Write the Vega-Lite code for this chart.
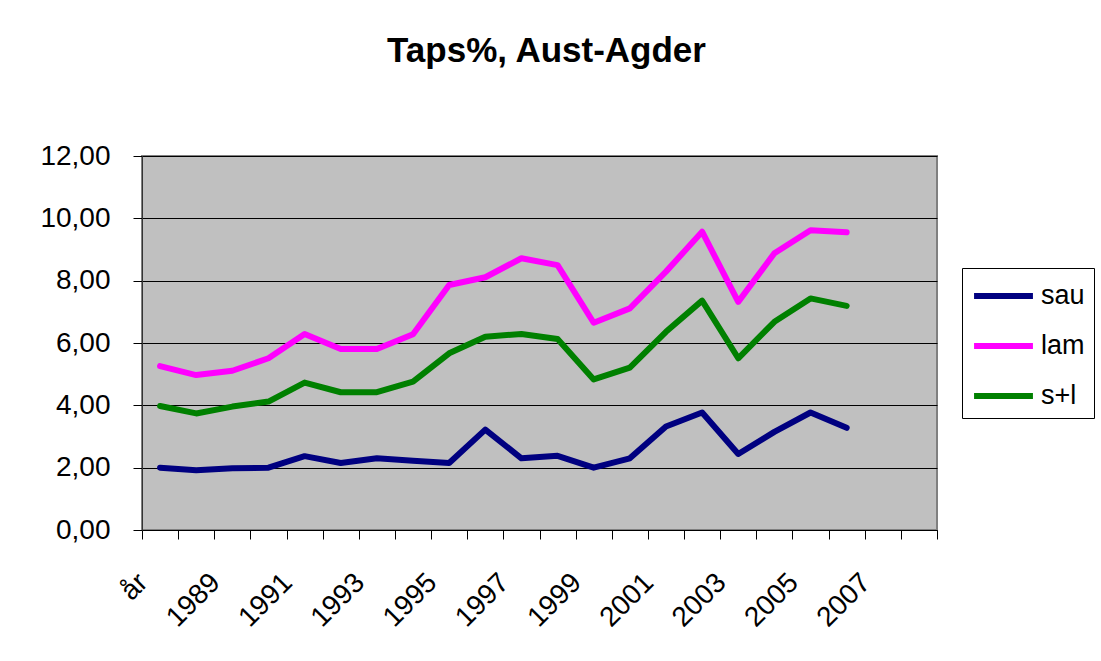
{
  "$schema": "https://vega.github.io/schema/vega-lite/v6.json",
  "width": 795,
  "height": 374,
  "autosize": "none",
  "padding": {"left": 142, "top": 156, "right": 164, "bottom": 131},
  "background": "white",
  "title": {
    "text": "Taps%, Aust-Agder",
    "font": "Liberation Sans",
    "fontSize": 35,
    "fontWeight": "bold",
    "color": "black",
    "anchor": "middle",
    "dx": 7,
    "offset": 45,
    "baseline": "alphabetic"
  },
  "config": {
    "view": {"fill": "#C0C0C0", "stroke": "#808080", "strokeWidth": 2}
  },
  "data": {
    "values": [
      {"ar": "år", "serie": "sau", "v": 2.00},
      {"ar": "1988", "serie": "sau", "v": 1.92},
      {"ar": "1989", "serie": "sau", "v": 1.98},
      {"ar": "1990", "serie": "sau", "v": 2.00},
      {"ar": "1991", "serie": "sau", "v": 2.37},
      {"ar": "1992", "serie": "sau", "v": 2.15},
      {"ar": "1993", "serie": "sau", "v": 2.30},
      {"ar": "1994", "serie": "sau", "v": 2.22},
      {"ar": "1995", "serie": "sau", "v": 2.15},
      {"ar": "1996", "serie": "sau", "v": 3.22},
      {"ar": "1997", "serie": "sau", "v": 2.30},
      {"ar": "1998", "serie": "sau", "v": 2.38},
      {"ar": "1999", "serie": "sau", "v": 2.00},
      {"ar": "2000", "serie": "sau", "v": 2.30},
      {"ar": "2001", "serie": "sau", "v": 3.32},
      {"ar": "2002", "serie": "sau", "v": 3.77},
      {"ar": "2003", "serie": "sau", "v": 2.44},
      {"ar": "2004", "serie": "sau", "v": 3.15},
      {"ar": "2005", "serie": "sau", "v": 3.77},
      {"ar": "2006", "serie": "sau", "v": 3.28},
      {"ar": "år", "serie": "lam", "v": 5.26},
      {"ar": "1988", "serie": "lam", "v": 4.97},
      {"ar": "1989", "serie": "lam", "v": 5.11},
      {"ar": "1990", "serie": "lam", "v": 5.51},
      {"ar": "1991", "serie": "lam", "v": 6.29},
      {"ar": "1992", "serie": "lam", "v": 5.81},
      {"ar": "1993", "serie": "lam", "v": 5.81},
      {"ar": "1994", "serie": "lam", "v": 6.28},
      {"ar": "1995", "serie": "lam", "v": 7.86},
      {"ar": "1996", "serie": "lam", "v": 8.11},
      {"ar": "1997", "serie": "lam", "v": 8.72},
      {"ar": "1998", "serie": "lam", "v": 8.50},
      {"ar": "1999", "serie": "lam", "v": 6.65},
      {"ar": "2000", "serie": "lam", "v": 7.11},
      {"ar": "2001", "serie": "lam", "v": 8.29},
      {"ar": "2002", "serie": "lam", "v": 9.57},
      {"ar": "2003", "serie": "lam", "v": 7.32},
      {"ar": "2004", "serie": "lam", "v": 8.88},
      {"ar": "2005", "serie": "lam", "v": 9.62},
      {"ar": "2006", "serie": "lam", "v": 9.55},
      {"ar": "år", "serie": "s+l", "v": 3.98},
      {"ar": "1988", "serie": "s+l", "v": 3.74},
      {"ar": "1989", "serie": "s+l", "v": 3.96},
      {"ar": "1990", "serie": "s+l", "v": 4.12},
      {"ar": "1991", "serie": "s+l", "v": 4.73},
      {"ar": "1992", "serie": "s+l", "v": 4.42},
      {"ar": "1993", "serie": "s+l", "v": 4.42},
      {"ar": "1994", "serie": "s+l", "v": 4.76},
      {"ar": "1995", "serie": "s+l", "v": 5.67},
      {"ar": "1996", "serie": "s+l", "v": 6.20},
      {"ar": "1997", "serie": "s+l", "v": 6.29},
      {"ar": "1998", "serie": "s+l", "v": 6.13},
      {"ar": "1999", "serie": "s+l", "v": 4.83},
      {"ar": "2000", "serie": "s+l", "v": 5.21},
      {"ar": "2001", "serie": "s+l", "v": 6.36},
      {"ar": "2002", "serie": "s+l", "v": 7.36},
      {"ar": "2003", "serie": "s+l", "v": 5.51},
      {"ar": "2004", "serie": "s+l", "v": 6.68},
      {"ar": "2005", "serie": "s+l", "v": 7.43},
      {"ar": "2006", "serie": "s+l", "v": 7.19}
    ]
  },
  "mark": {"type": "line", "strokeWidth": 6, "strokeCap": "round", "strokeJoin": "round"},
  "encoding": {
    "x": {
      "field": "ar",
      "type": "ordinal",
      "scale": {
        "type": "band",
        "paddingInner": 0,
        "paddingOuter": 0,
        "domain": ["år", "1988", "1989", "1990", "1991", "1992", "1993", "1994", "1995", "1996", "1997", "1998", "1999", "2000", "2001", "2002", "2003", "2004", "2005", "2006", "2007", "2008"]
      },
      "axis": {
        "title": null,
        "tickBand": "extent",
        "labelAngle": -45,
        "labelAlign": "right",
        "labelBaseline": "middle",
        "labelFont": "Liberation Sans",
        "labelFontSize": 28,
        "labelColor": "black",
        "labelPadding": 39,
        "labelOffset": -17,
        "labelOverlap": false,
        "labelExpr": "datum.label == 'år' || toNumber(datum.label) % 2 == 1 ? datum.label : ''",
        "tickSize": 9,
        "tickColor": "black",
        "domainColor": "black",
        "grid": false
      }
    },
    "y": {
      "field": "v",
      "type": "quantitative",
      "scale": {"domain": [0, 12], "nice": false},
      "axis": {
        "title": null,
        "values": [0, 2, 4, 6, 8, 10, 12],
        "labelExpr": "replace(format(datum.value, '.2f'), '.', ',')",
        "labelFont": "Liberation Sans",
        "labelFontSize": 28,
        "labelColor": "black",
        "labelPadding": 23,
        "tickSize": 9,
        "tickColor": "black",
        "domainColor": "#333333",
        "grid": true,
        "gridColor": "black"
      }
    },
    "color": {
      "field": "serie",
      "type": "nominal",
      "scale": {"domain": ["sau", "lam", "s+l"], "range": ["#000080", "#FF00FF", "#008000"]},
      "legend": {
        "orient": "none",
        "legendX": 820,
        "legendY": 112,
        "title": null,
        "padding": 9,
        "fillColor": "white",
        "strokeColor": "black",
        "cornerRadius": 0,
        "symbolType": "M-1.84,0H1.84",
        "symbolSize": 1024,
        "symbolStrokeWidth": 6,
        "symbolOffset": 13.5,
        "labelOffset": 18.5,
        "labelFont": "Liberation Sans",
        "labelFontSize": 27,
        "labelColor": "black",
        "rowPadding": 18
      }
    }
  }
}
